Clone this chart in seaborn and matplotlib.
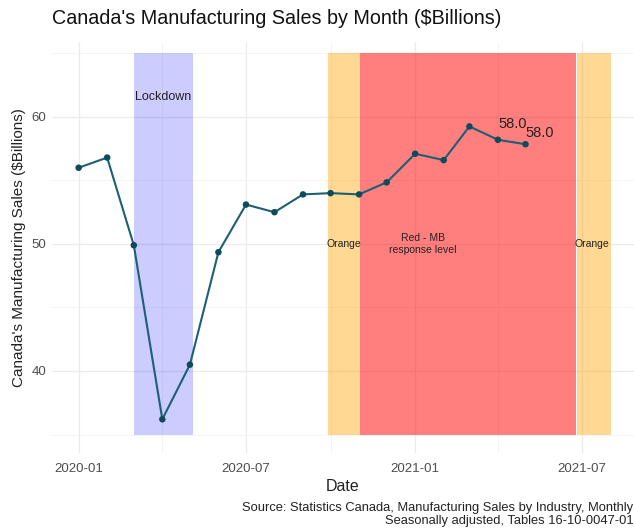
import pandas as pd
import matplotlib.pyplot as plt
import matplotlib.dates as mdates
import seaborn as sns

months = pd.date_range('2020-01-01', '2021-05-01', freq='MS')
sales = [56.0, 56.8, 49.9, 36.2, 40.5, 49.35, 53.1, 52.5, 53.9,
         54.0, 53.9, 54.85, 57.1, 56.6, 59.25, 58.2, 57.85]

# restriction periods (start, end, colour, alpha)
periods = [
    ('2020-03-01', '2020-05-04', 'blue', 0.2),
    ('2020-09-28', '2020-11-02', 'orange', 0.42),
    ('2020-11-02', '2021-06-25', 'red', 0.5),
    ('2021-06-26', '2021-08-02', 'orange', 0.42),
]
# period annotations (date, y, text, size)
notes = [
    ('2020-04-02', 61.6, 'Lockdown', 9),
    ('2020-10-15', 50, 'Orange', 7.5),
    ('2021-01-09', 50, 'Red - MB\nresponse level', 7.5),
    ('2021-07-12', 50, 'Orange', 7.5),
]
end_labels = ['58.0', '58.0']

df = pd.DataFrame({'date': months, 'sales': sales})

sns.set_theme(style='whitegrid')
plt.rcParams['font.family'] = ['Liberation Sans', 'DejaVu Sans']

fig = plt.figure(figsize=(6.34, 5.31), dpi=100)
ax = fig.add_axes([0.082, 0.147, 0.918, 0.774])

for start, end, col, a in periods:
    ax.fill_between([pd.Timestamp(start), pd.Timestamp(end)], 35, 65,
                    color=col, alpha=a, lw=0, zorder=1)
for d, ly, lab, fs in notes:
    ax.text(pd.Timestamp(d), ly, lab, ha='center', va='center', fontsize=fs,
            color='#222222', zorder=3, linespacing=1.25)

line_col = '#1d5f74'
sns.lineplot(data=df, x='date', y='sales', color=line_col, lw=1.5, ax=ax, zorder=4)
sns.scatterplot(data=df, x='date', y='sales', color='#0e4a5c', s=22,
                edgecolor='none', ax=ax, zorder=5)

# labels for the last two points
for (d, v), t, dx, dy in zip(df[['date', 'sales']].values[-2:], end_labels,
                             [16, 15], [1.25, 0.9]):
    ax.text(d + pd.Timedelta(days=dx), v + dy, t, ha='center', va='center',
            fontsize=10.5, color='#222222', zorder=6)

ax.set_xlim(pd.Timestamp('2019-12-03'), pd.Timestamp('2021-08-27'))
ax.set_ylim(33.55, 65.9)
ax.set_yticks([40, 50, 60])
ax.set_yticks([35, 45, 55, 65], minor=True)
ax.xaxis.set_major_locator(mdates.MonthLocator(bymonth=[1, 7]))
ax.xaxis.set_minor_locator(mdates.MonthLocator(bymonth=[4, 10]))
ax.xaxis.set_major_formatter(mdates.DateFormatter('%Y-%m'))

ax.grid(which='major', color='#ebebeb', lw=0.9)
ax.grid(which='minor', color='#f2f2f2', lw=0.6)
ax.set_axisbelow(True)
for sp in ax.spines.values():
    sp.set_visible(False)
ax.tick_params(which='both', length=0, labelsize=9.5, labelcolor='#4d4d4d')
ax.tick_params(axis='x', pad=7)
ax.tick_params(axis='y', pad=4)

ax.set_xlabel('Date', fontsize=11.5, color='#222222', labelpad=3)
ax.set_ylabel("Canada's Manufacturing Sales ($Billions)", fontsize=11,
              color='#222222', labelpad=4)
fig.text(0.082, 0.966, "Canada's Manufacturing Sales by Month ($Billions)",
         fontsize=14.2, ha='left', va='center', color='#111111')
fig.text(0.999, 0.031,
         'Source: Statistics Canada, Manufacturing Sales by Industry, Monthly\n'
         'Seasonally adjusted, Tables 16-10-0047-01',
         fontsize=9.3, ha='right', va='center', color='#222222', linespacing=1.05)

fig.savefig('out.png', dpi=100)
